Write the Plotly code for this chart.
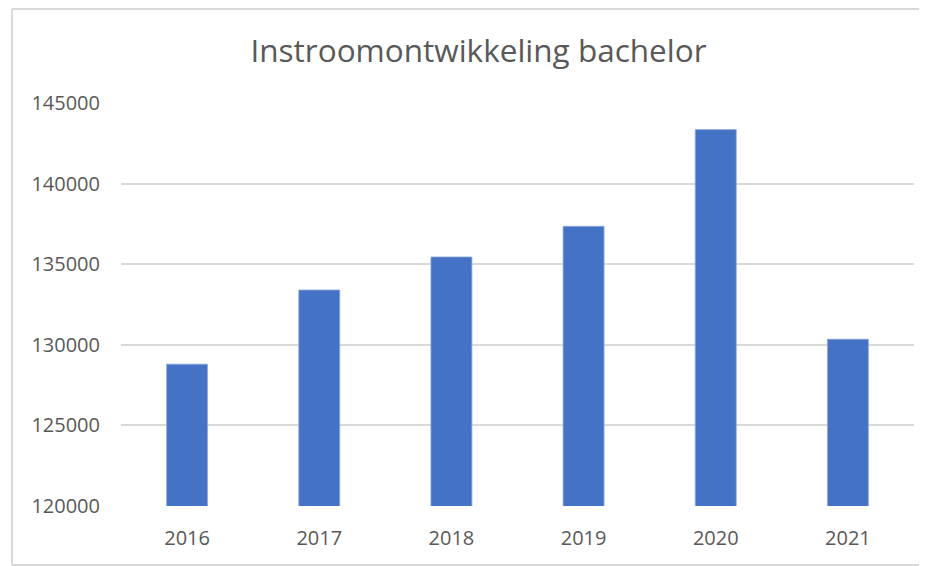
import plotly.graph_objects as go

years = ["2016", "2017", "2018", "2019", "2020", "2021"]
instroom = [128800, 133400, 135450, 137350, 143350, 130350]
y_ticks = [120000, 125000, 130000, 135000, 140000, 145000]

# The page body has an 8px margin, so the figure is 8px smaller than the window
OFF = 8
W, H = 927 - OFF, 566 - OFF
L, R, T, B = 121 - OFF, 13, 103 - OFF, 60
pw, ph = W - L - R, H - T - B

def px(x):
    return (x - OFF - L) / pw

def py(y):
    return (H - B - (y - OFF)) / ph

border = dict(color="#d9d9d9", width=2)
frame = [
    dict(type="line", xref="paper", yref="paper", x0=px(12), x1=px(12), y0=py(565), y1=py(9), line=border, layer="below"),
    dict(type="line", xref="paper", yref="paper", x0=px(12), x1=px(940), y0=py(9), y1=py(9), line=border, layer="below"),
    dict(type="line", xref="paper", yref="paper", x0=px(12), x1=px(940), y0=py(565), y1=py(565), line=border, layer="below"),
]

fig = go.Figure()
fig.add_trace(go.Bar(
    x=years, y=instroom,
    marker=dict(color="#4472C4", line=dict(color="#8FAADC", width=0.8)),
    width=0.31,
))

fig.update_layout(
    width=W, height=H,
    margin=dict(l=L, r=R, t=T, b=B),
    paper_bgcolor="white", plot_bgcolor="white",
    showlegend=False,
    font=dict(family="Open Sans", color="#595959"),
    title=dict(text="Instroomontwikkeling bachelor", x=(478.5 - OFF) / W, xref="container",
               xanchor="center",
               y=1 - (51 - OFF) / H, yanchor="middle",
               font=dict(family="Open Sans", size=31.5, color="#595959")),
    xaxis=dict(showgrid=False, showline=False, zeroline=False,
               tickfont=dict(size=20, color="#595959"),
               ticks="", ticklabelstandoff=18),
    yaxis=dict(range=[120000, 145000], tickvals=y_ticks,
               ticktext=[str(v) for v in y_ticks],
               showgrid=True, gridcolor="#d9d9d9", gridwidth=1.5,
               zeroline=False, showline=False,
               tickfont=dict(size=20, color="#595959"),
               ticks="", ticklabelstandoff=20),
    shapes=frame,
)

fig.write_html("out.html")
